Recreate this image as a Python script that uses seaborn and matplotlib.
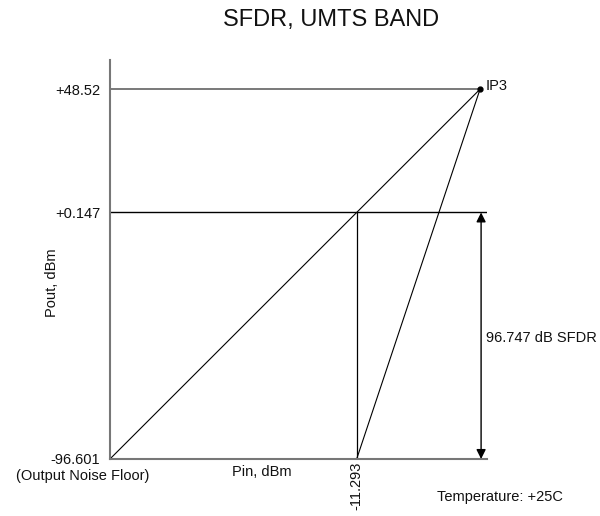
#!/usr/bin/env python3
"""
SFDR, UMTS BAND 차트 재현
"""

import pandas as pd
import numpy as np
import matplotlib
matplotlib.use('Agg')
import matplotlib.pyplot as plt
import seaborn as sns

# 데이터 (dBm)
pout_levels = [-96.601, 0.147, 48.52]
pout_labels = ['-96.601', '+0.147', '+48.52']
pin_floor = -108.04   # 기본파 라인 시작점 (출력 잡음 바닥)
pin_imd = -11.293     # 3차 IMD 라인이 잡음 바닥과 만나는 점
pin_ip3 = 37.081      # IP3 입력
sfdr_db = 96.747
arrow_pin = 37.5
xlim = (-108.04, 39.8)
ylim = (-96.601, 60.0)

sns.set_style('white')
plt.rcParams['font.family'] = ['Liberation Sans', 'DejaVu Sans']
plt.rcParams['text.color'] = '#111111'
plt.rcParams['xtick.color'] = '#111111'
plt.rcParams['ytick.color'] = '#111111'

fig = plt.figure(figsize=(6.0, 5.16), dpi=100)
ax = fig.add_axes([0.1833, 0.1105, 0.6283, 0.7733])

# 선분 데이터
fund_df = pd.DataFrame({'pin': [pin_floor, pin_ip3], 'pout': [pout_levels[0], pout_levels[2]]})
imd_df = pd.DataFrame({'pin': [pin_imd, pin_ip3], 'pout': [pout_levels[0], pout_levels[2]]})
vert_df = pd.DataFrame({'pin': [pin_imd, pin_imd], 'pout': [pout_levels[0], pout_levels[1]]})
ip3_df = pd.DataFrame({'pin': [pin_floor, pin_ip3], 'pout': [pout_levels[2], pout_levels[2]]})
mid_df = pd.DataFrame({'pin': [pin_floor, xlim[1]], 'pout': [pout_levels[1], pout_levels[1]]})

common = dict(x='pin', y='pout', ax=ax, sort=False, estimator=None)
sns.lineplot(data=ip3_df, color='#555555', lw=1.1, **common)
sns.lineplot(data=mid_df, color='black', lw=1.0, **common)
sns.lineplot(data=fund_df, color='black', lw=0.8, **common)
sns.lineplot(data=imd_df, color='black', lw=0.8, **common)
sns.lineplot(data=vert_df, color='black', lw=0.9, **common)

# IP3 점
ax.plot([pin_ip3], [pout_levels[2]], 'o', color='black', ms=3.5, clip_on=False, zorder=5)
ax.annotate('IP3', (pin_ip3, pout_levels[2]), xytext=(4, 2), textcoords='offset points',
            fontsize=10.5, va='center', ha='left')

# SFDR 화살표
ax.annotate('', xy=(arrow_pin, pout_levels[1]), xytext=(arrow_pin, pout_levels[0]),
            arrowprops=dict(arrowstyle='<|-|>', color='black', lw=1.0,
                            mutation_scale=14, shrinkA=0, shrinkB=0))
ax.text(arrow_pin + 2.0, (pout_levels[0] + pout_levels[1]) / 2 - 1.0, f'{sfdr_db} dB SFDR',
        fontsize=10.5, ha='left', va='center', zorder=6,
        bbox=dict(facecolor='white', edgecolor='none', pad=2.5))

ax.set_xlim(*xlim)
ax.set_ylim(*ylim)

ax.set_yticks(pout_levels, labels=pout_labels)
ax.set_xticks([pin_imd], labels=['-11.293'], rotation=90)
ax.tick_params(axis='both', length=0, labelsize=10.5)
ax.tick_params(axis='y', pad=7)
ax.tick_params(axis='x', pad=2)

for side in ['top', 'right']:
    ax.spines[side].set_visible(False)
for side in ['left', 'bottom']:
    ax.spines[side].set_color('#777777')
    ax.spines[side].set_linewidth(1.5)

ax.set_xlabel('')
ax.set_ylabel('')

# 라벨 텍스트
fig.text(331 / 600, 1 - 20 / 516, 'SFDR, UMTS BAND', fontsize=17, ha='center', va='center')
fig.text(52 / 600, 1 - 283 / 516, 'Pout, dBm', fontsize=10.5, rotation=90, ha='center', va='center')
fig.text(262 / 600, 1 - 472 / 516, 'Pin, dBm', fontsize=10.5, ha='center', va='center')
fig.text(83 / 600, 1 - 476 / 516, '(Output Noise Floor)', fontsize=10.5, ha='center', va='center')
fig.text(500 / 600, 1 - 497 / 516, 'Temperature: +25C', fontsize=10.5, ha='center', va='center')

plt.savefig('out.png', dpi=100)
plt.close()
